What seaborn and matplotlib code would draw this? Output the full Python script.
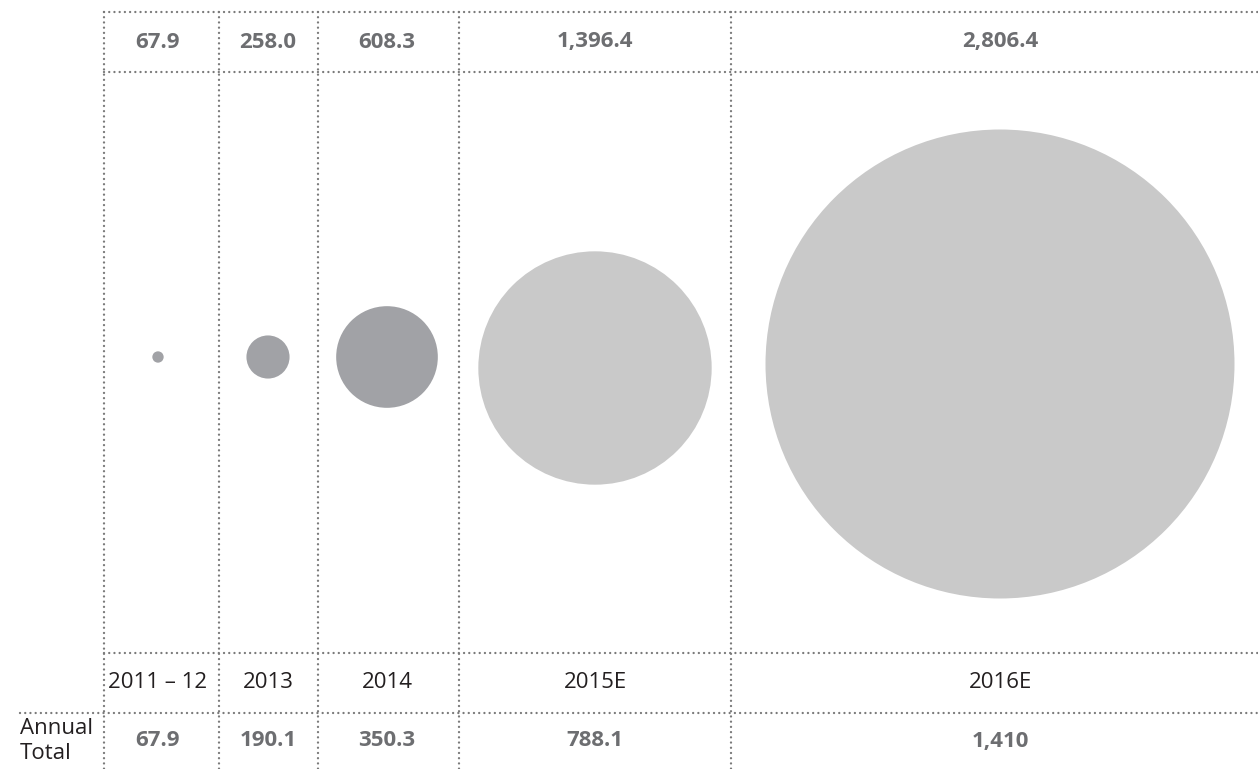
import numpy as np
import pandas as pd
import matplotlib
matplotlib.use('Agg')
import matplotlib.pyplot as plt
import seaborn as sns

# 데이터
periods = ['2011 – 12', '2013', '2014', '2015E', '2016E']
cumulative = [67.9, 258.0, 608.3, 1396.4, 2806.4]
cumulative_labels = ['67.9', '258.0', '608.3', '1,396.4', '2,806.4']
annual_labels = ['67.9', '190.1', '350.3', '788.1', '1,410']
status = ['actual', 'actual', 'actual', 'estimate', 'estimate']

# 레이아웃 (픽셀 좌표)
col_edges = [104, 219, 318, 459, 731, 1269]
col_centers = [158, 268, 387, 595, 1000]
circle_y = [357, 357, 357, 368, 364]
px_per_unit = 234.5 / 2806.4  # 반지름이 값에 비례

sns.set_theme(style='white')
plt.rcParams['font.family'] = ['Open Sans', 'DejaVu Sans']

df = pd.DataFrame({'period': periods, 'value': cumulative, 'status': status})
df['x'] = col_centers
df['y'] = circle_y
df['size_var'] = df['value'] ** 2

dpi = 100
fig = plt.figure(figsize=(12.58, 7.69), dpi=dpi)
ax = fig.add_axes([0, 0, 1, 1])
ax.set_xlim(0, 1258)
ax.set_ylim(769, 0)
ax.axis('off')

# 원 면적(pt^2) : 지름(px) * 72/dpi
def area(v):
    d = 2 * v * px_per_unit * 72 / dpi
    return d ** 2

sns.scatterplot(data=df, x='x', y='y', size='size_var', hue='status',
                sizes=(area(min(cumulative)), area(max(cumulative))),
                size_norm=(min(cumulative) ** 2, max(cumulative) ** 2),
                palette={'actual': '#a1a2a6', 'estimate': '#c9c9c9'},
                linewidth=0, legend=False, ax=ax, zorder=3)

# 점선 격자
line_kw = dict(color='#7a7a7a', linewidth=1.7, linestyle=(0, (0.01, 2.2)),
               capstyle='round')
ax.hlines([12, 72, 653], 104, 1258, **line_kw)
ax.hlines(713, 20, 1258, **line_kw)
ax.vlines(col_edges[:-1], 12, 769, **line_kw)

# 텍스트
fs = 16
for x, lab in zip(col_centers, cumulative_labels):
    ax.text(x, 42, lab, ha='center', va='center', fontsize=fs,
            fontweight='bold', color='#6d6e71')
for x, lab in zip(col_centers, periods):
    ax.text(x, 683, lab, ha='center', va='center', fontsize=fs,
            color='#231f20')
for x, lab in zip(col_centers, annual_labels):
    ax.text(x, 741, lab, ha='center', va='center', fontsize=fs,
            fontweight='bold', color='#6d6e71')
ax.text(20, 741, 'Annual\nTotal', ha='left', va='center', fontsize=fs,
        color='#231f20', linespacing=1.2)

fig.savefig('out.png', dpi=dpi)
